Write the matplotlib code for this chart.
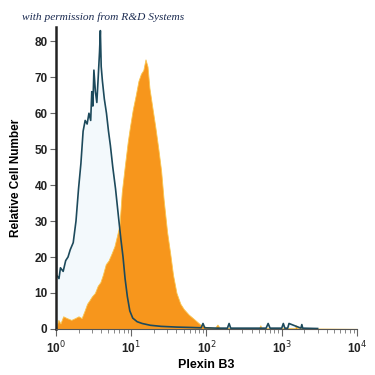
import matplotlib.pyplot as plt
from matplotlib.ticker import LogLocator, NullFormatter

# isotype control (outline)
iso_x = [1.0, 1.02, 1.1, 1.15, 1.25, 1.35, 1.45, 1.55, 1.7, 1.85, 2.0, 2.15, 2.3,
         2.45, 2.6, 2.75, 2.9, 3.0, 3.1, 3.2, 3.35, 3.5, 3.65, 3.8, 3.9, 4.0,
         4.15, 4.4, 4.7, 5.0, 5.3, 5.7, 6.2, 6.8, 7.3, 7.8, 8.3, 8.9, 9.6, 10.5,
         12, 14, 18, 25, 40, 60, 85, 90, 95, 140, 190, 200, 210, 400, 620, 660,
         700, 1000, 1050, 1100, 1200, 1250, 1800, 1850, 1900, 3000]
iso_y = [50, 15, 14, 17, 16, 19, 20, 22, 24, 30, 39, 46, 55,
         58, 57, 60, 58, 66, 62, 72, 66, 63, 70, 77, 83, 73,
         69, 64, 60, 55, 51, 45, 39, 31, 25, 20, 14, 9, 5, 3,
         2, 1.5, 1, 0.7, 0.5, 0.4, 0.3, 1.5, 0.3, 0.2, 0.2, 1.5, 0.2, 0.2, 0.2, 1.5,
         0.2, 0.2, 1.5, 0.2, 0.2, 1.5, 0.2, 1.2, 0.2, 0.1]

# Plexin B3 stained (filled)
pe_x = [1.0, 1.03, 1.08, 1.15, 1.25, 1.4, 1.6, 1.8, 2.0, 2.2, 2.4, 2.6, 2.8, 3.0,
        3.3, 3.6, 3.9, 4.2, 4.6, 5.0, 5.5, 6.0, 6.5, 7.0, 7.5, 8.2, 9.0, 9.6,
        10.5, 11.5, 12.5, 13.5, 14.5, 15.5, 16.5, 17.5, 19, 21, 23, 25, 27, 30,
        33, 36, 40, 45, 50, 58, 66, 75, 85, 100, 130, 140, 150, 300, 500, 520,
        540, 1500, 1550, 1600, 3000, 10000]
pe_y = [0, 1, 2.5, 1.5, 3.5, 3, 2.5, 3, 3.5, 3, 5, 7, 8, 9,
        10, 12, 13, 15, 18, 19, 21, 23, 26, 29, 38, 45, 52, 56,
        61, 65, 69, 71, 72, 75, 73, 67, 62, 56, 50, 44, 36, 27,
        21, 15, 10, 7, 5.5, 4, 3, 2, 1, 0.5, 0.3, 1.2, 0.3, 0.2, 0.2, 1.0,
        0.2, 0.2, 1.0, 0.2, 0.1, 0]

y_ticks = [0, 10, 20, 30, 40, 50, 60, 70, 80]
x_ticks = [1, 10, 100, 1000, 10000]
x_labels = ['10$^0$', '10$^1$', '10$^2$', '10$^3$', '10$^4$']


def generate_plot():
    fig = plt.figure(figsize=(3.75, 3.75), dpi=100)
    ax = fig.add_axes([0.149, 0.123, 0.803, 0.805])

    ax.fill_between(iso_x, iso_y, color='#f3f9fc', lw=0)
    ax.fill_between(pe_x, pe_y, color='#f7961c', edgecolor='#f9c54f', lw=0.6)
    ax.plot(iso_x, iso_y, color='#1d4a5c', lw=1.2)

    ax.set_xscale('log')
    ax.set_xlim(1, 10000)
    ax.set_ylim(0, 84)

    ax.set_yticks(y_ticks)
    ax.set_xticks(x_ticks)
    ax.set_xticklabels(x_labels)
    ax.xaxis.set_minor_locator(LogLocator(base=10, subs=range(2, 10)))
    ax.xaxis.set_minor_formatter(NullFormatter())

    for s in ['top', 'right']:
        ax.spines[s].set_visible(False)
    ax.spines['left'].set_linewidth(1.8)
    ax.spines['left'].set_color('#222222')
    ax.spines['bottom'].set_linewidth(0.8)
    ax.spines['bottom'].set_color('#555555')

    ax.tick_params(axis='y', length=4, width=0.8, color='#666666', pad=2,
                   labelsize=8.5)
    ax.tick_params(axis='x', which='major', length=5, width=0.8, color='#666666',
                   pad=3, labelsize=8.5)
    ax.tick_params(axis='x', which='minor', length=3, width=0.7, color='#888888')
    for lab in ax.get_yticklabels() + ax.get_xticklabels():
        lab.set_fontweight('bold')
        lab.set_color('#222222')

    ax.set_ylabel('Relative Cell Number', fontsize=8.5, fontweight='bold',
                  labelpad=9)
    ax.set_xlabel('Plexin B3', fontsize=9, fontweight='bold', labelpad=2)

    fig.text(0.06, 0.948, 'with permission from R&D Systems', fontsize=8.2,
             family='Liberation Serif', style='italic', color='#1a2a50')
    return fig


if __name__ == "__main__":
    plt.rcParams['font.family'] = ['Liberation Sans Narrow', 'Liberation Sans', 'DejaVu Sans']
    fig = generate_plot()
    fig.savefig('out.png', dpi=100)
